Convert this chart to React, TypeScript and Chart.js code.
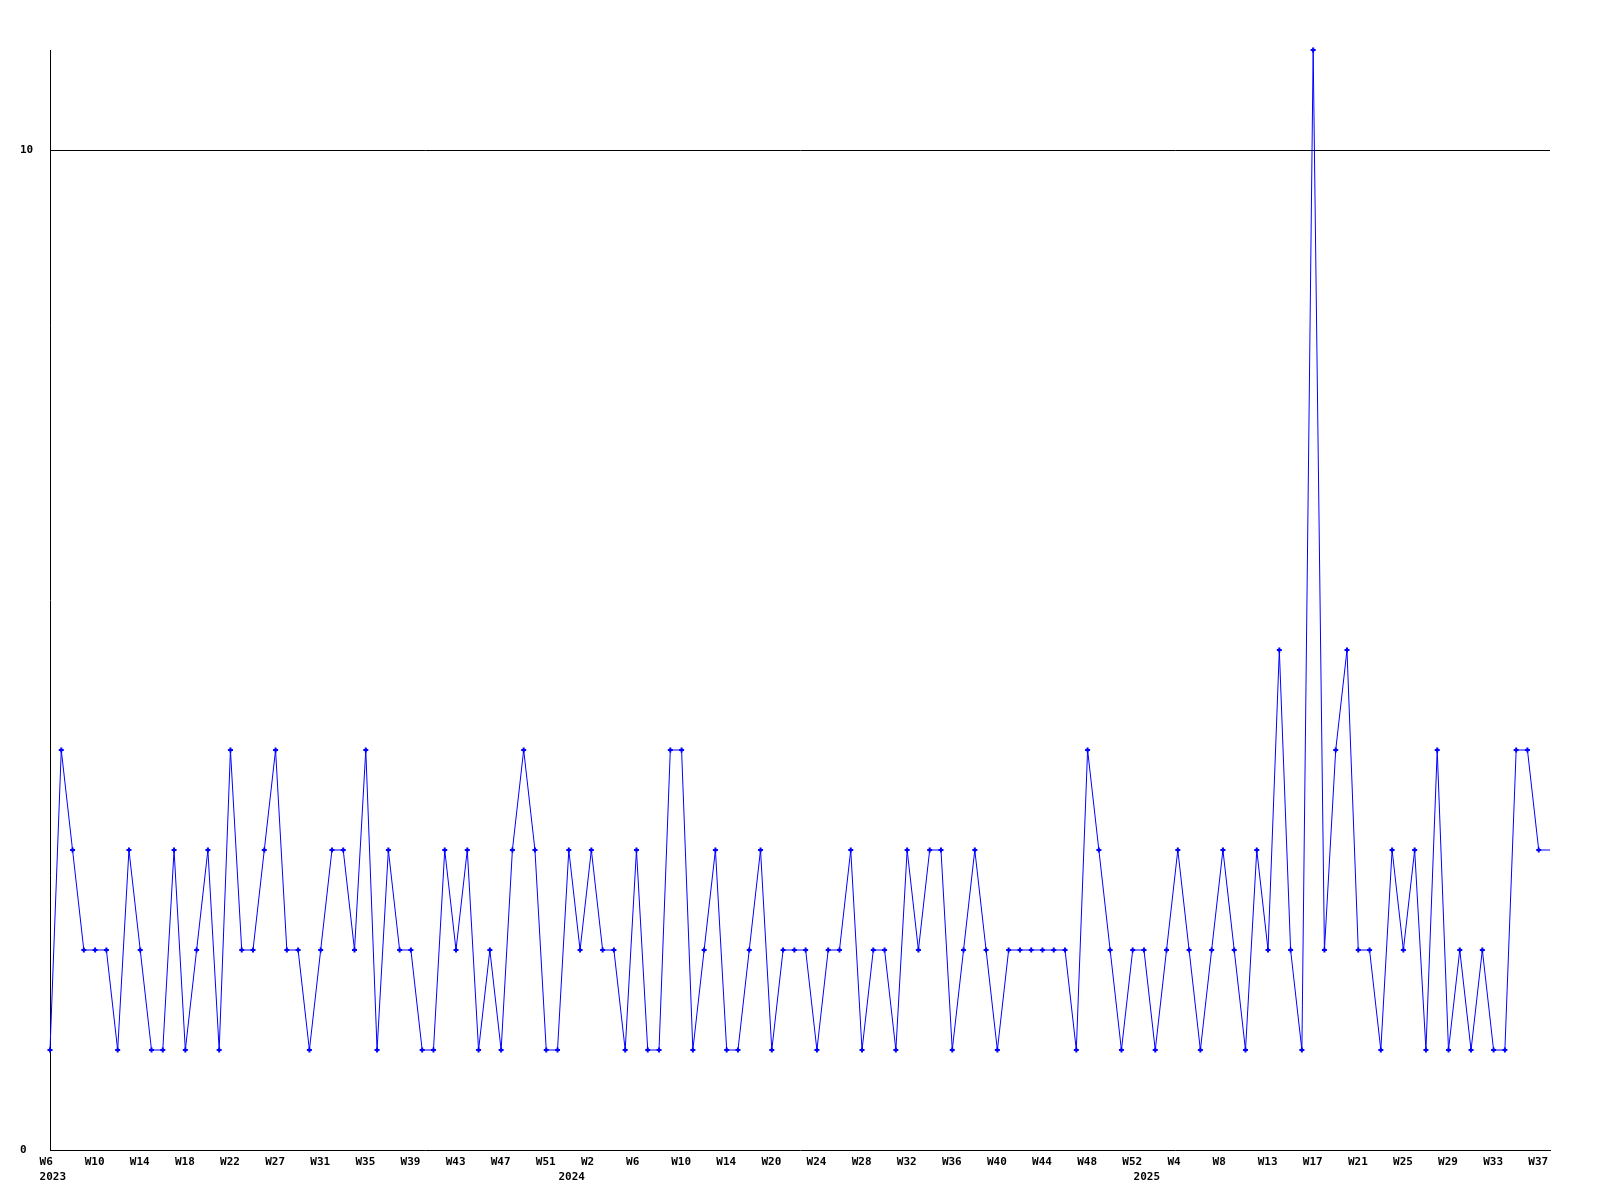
import React, { useEffect, useRef } from 'react';
import { Chart, registerables } from 'chart.js';

Chart.register(...registerables);

// Weekly counts, W6 2023 .. W37 2025 (last entry = current partial week, drawn without marker)
const values: number[] = [
  1, 4, 3, 2, 2, 2, 1, 3, 2, 1,
  1, 3, 1, 2, 3, 1, 4, 2, 2, 3,
  4, 2, 2, 1, 2, 3, 3, 2, 4, 1,
  3, 2, 2, 1, 1, 3, 2, 3, 1, 2,
  1, 3, 4, 3, 1, 1, 3, 2, 3, 2,
  2, 1, 3, 1, 1, 4, 4, 1, 2, 3,
  1, 1, 2, 3, 1, 2, 2, 2, 1, 2,
  2, 3, 1, 2, 2, 1, 3, 2, 3, 3,
  1, 2, 3, 2, 1, 2, 2, 2, 2, 2,
  2, 1, 4, 3, 2, 1, 2, 2, 1, 2,
  3, 2, 1, 2, 3, 2, 1, 3, 2, 5,
  2, 1, 11, 2, 4, 5, 2, 2, 1, 3,
  2, 3, 1, 4, 1, 2, 1, 2, 1, 1,
  4, 4, 3, 3,
];

// Week tick labels, one every 4 points
const weekLabels: string[] = [
  'W6', 'W10', 'W14', 'W18', 'W22', 'W27', 'W31', 'W35', 'W39', 'W43', 'W47', 'W51',
  'W2', 'W6', 'W10', 'W14', 'W20', 'W24', 'W28', 'W32', 'W36', 'W40', 'W44', 'W48',
  'W52', 'W4', 'W8', 'W13', 'W17', 'W21', 'W25', 'W29', 'W33', 'W37',
];
const weekStep = 4;

// Year labels and the point index where each year starts
const yearLabels: string[] = ['2023', '2024', '2025'];
const yearIndex: number[] = [0, 46, 97];

const yTickValues: number[] = [0, 10];
const yMax = 11;

const FONT = { family: "'DejaVu Sans Mono', monospace", size: 11, weight: 'bold' as const, lineHeight: 1.4 };
const LABEL_SHIFT = 0.92; // labels start slightly left of their point

export default function App() {
  const ref = useRef<HTMLCanvasElement | null>(null);

  useEffect(() => {
    if (!ref.current) return;

    const tickDefs: { value: number; label: string | string[] }[] = [];
    weekLabels.forEach((w, i) => {
      const idx = i * weekStep;
      const y = yearIndex.indexOf(idx);
      tickDefs.push({ value: idx - LABEL_SHIFT, label: y >= 0 ? [w, yearLabels[y]] : w });
    });
    yearIndex.forEach((idx, i) => {
      if (idx % weekStep !== 0) tickDefs.push({ value: idx - LABEL_SHIFT, label: ['', yearLabels[i]] });
    });
    tickDefs.sort((a, b) => a.value - b.value);

    const pts = values.map((v, i) => ({ x: i, y: v }));
    const radii = values.map((_, i) => (i === values.length - 1 ? 0 : 2.5));

    const chart = new Chart(ref.current, {
      type: 'line',
      data: {
        datasets: [
          {
            data: pts,
            borderColor: '#0000ff',
            borderWidth: 1,
            tension: 0,
            pointStyle: 'cross',
            pointRadius: radii,
            pointHoverRadius: radii,
            pointBorderColor: '#0000ff',
            pointBackgroundColor: '#0000ff',
            pointBorderWidth: 2,
            clip: false as any,
          },
        ],
      },
      options: {
        animation: false,
        responsive: false,
        events: [],
        layout: { padding: { left: 20, right: 50, top: 50, bottom: 0 } },
        plugins: { legend: { display: false }, tooltip: { enabled: false } },
        scales: {
          x: {
            type: 'linear',
            min: 0,
            max: values.length - 1,
            grid: { display: false, drawTicks: false },
            border: { display: true, color: '#000000', width: 1 },
            afterBuildTicks: (scale: any) => {
              scale.ticks = tickDefs.map((t) => ({ value: t.value }));
            },
            afterFit: (scale: any) => {
              scale.height = 50;
            },
            ticks: {
              autoSkip: false,
              maxRotation: 0,
              minRotation: 0,
              align: 'start',
              padding: 4,
              color: '#000000',
              font: FONT,
              callback: (_v: any, index: number) => tickDefs[index]?.label ?? '',
            },
          },
          y: {
            type: 'linear',
            min: 0,
            max: yMax,
            grid: {
              drawTicks: false,
              color: (ctx: any) => (ctx.tick && ctx.tick.value === 10 ? '#000000' : 'rgba(0,0,0,0)'),
              lineWidth: 1,
            },
            border: { display: true, color: '#000000', width: 1 },
            afterBuildTicks: (scale: any) => {
              scale.ticks = yTickValues.map((v) => ({ value: v }));
            },
            afterFit: (scale: any) => {
              scale.width = 30;
            },
            ticks: {
              crossAlign: 'far',
              color: '#000000',
              font: FONT,
              padding: 4,
              callback: (v: any) => String(v),
            },
          },
        },
      },
    });

    return () => chart.destroy();
  }, []);

  return (
    <div style={{ position: 'absolute', left: 0, top: 0, width: 1600, height: 1200, background: '#ffffff' }}>
      <canvas ref={ref} width={1600} height={1200} style={{ width: 1600, height: 1200 }} />
    </div>
  );
}
